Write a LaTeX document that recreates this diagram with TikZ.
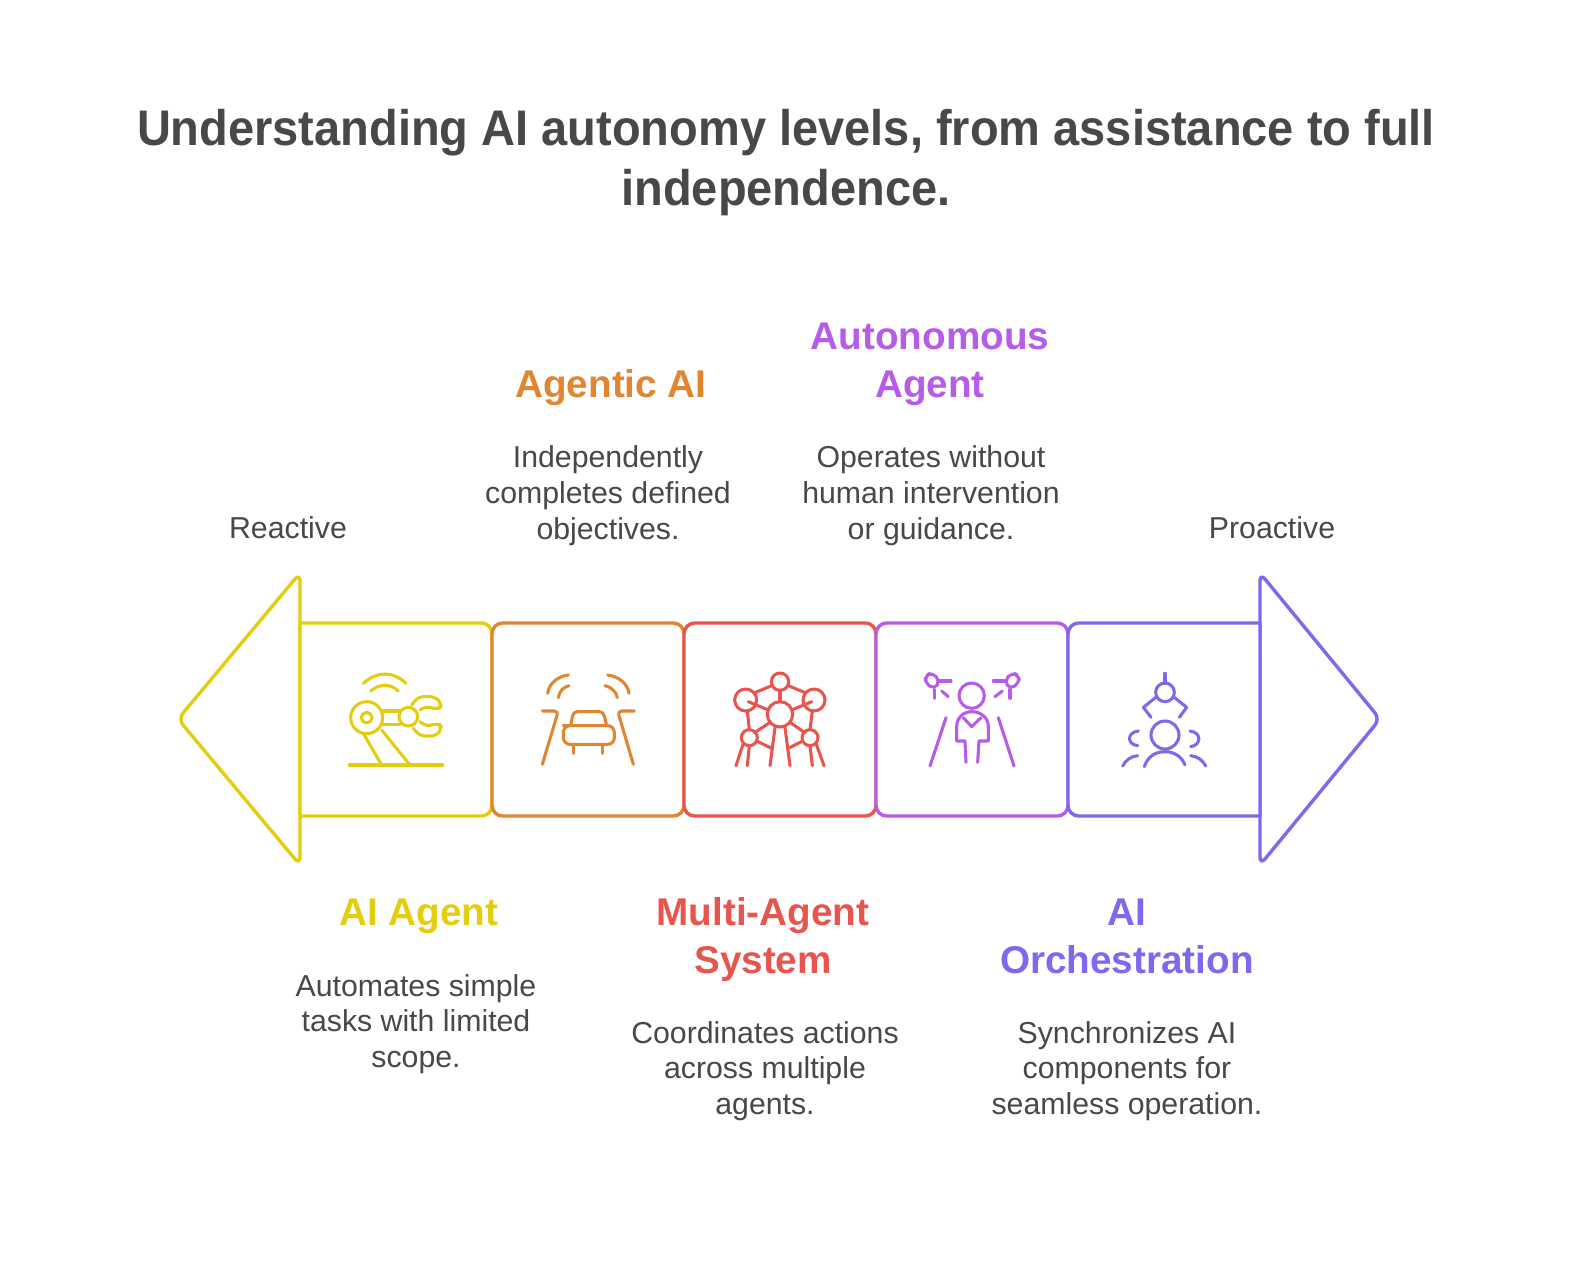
\documentclass[tikz,border=0pt]{standalone}
\usepackage{fontspec}
\setmainfont{Liberation Sans}
\newfontfamily\titlefont[FakeStretch=0.94]{Liberation Sans}
\definecolor{cyel}{HTML}{E2CE0F}
\definecolor{cora}{HTML}{E08530}
\definecolor{cred}{HTML}{E8554E}
\definecolor{cpur}{HTML}{B75CE8}
\definecolor{cvio}{HTML}{7E69EC}
\definecolor{ctxt}{HTML}{484848}
\tikzset{
  shapeline/.style={line width=3.4*0.75pt,line join=round,line cap=round,fill=white,draw=#1},
  iconline/.style={line width=2.3pt,line cap=round,line join=round},
  icon/.style={x=0.25pt,y=-0.25pt,iconline},
  titletext/.style={font=\fontsize{37.5}{45}\selectfont\titlefont\bfseries,text=ctxt,align=center,inner sep=0pt},
  headtext/.style={font=\fontsize{29}{36}\selectfont\bfseries,align=center,inner sep=0pt},
  bodytext/.style={font=\fontsize{22.7}{26.8}\selectfont,text=ctxt,align=center,inner sep=0pt},
}
\begin{document}
\begin{tikzpicture}[x=0.75pt,y=-0.75pt]
\useasboundingbox[fill=white] (0,0) rectangle (1584,1272);
% title
\node[titletext] (title) at (786,163) {Understanding AI autonomy levels, from assistance to full\\independence.};
% end labels
\node[bodytext] (reactive) at (288,528) {Reactive};
\node[bodytext] (proactive) at (1272,528) {Proactive};
% arrow heads and boxes
\draw[shapeline=cyel,rounded corners=6] (300,623) -- (300,573) -- (178,719) -- (300,865) -- (300,816) -- cycle;
\draw[shapeline=cvio,rounded corners=6] (1260,623) -- (1260,573) -- (1380,719) -- (1260,865) -- (1260,816) -- cycle;
\draw[shapeline=cyel] (300,623) -- (484,623) [rounded corners=8] -- (492,623) -- (492,816) [sharp corners] -- (300,816) -- cycle;
\draw[shapeline=cora,rounded corners=8] (492,623) rectangle (684,816);
\draw[shapeline=cred,rounded corners=8] (684,623) rectangle (876,816);
\draw[shapeline=cpur,rounded corners=8] (876,623) rectangle (1068,816);
\draw[shapeline=cvio] (1260,623) [rounded corners=8] -- (1068,623) -- (1068,816) [sharp corners] -- (1260,816) -- cycle;
% icon 1
\begin{scope}[shift={(330,655)},icon,cyel]
\draw (100,85) .. controls (140,48) and (190,48) .. (228,85);
\draw (122,108) .. controls (150,85) and (180,85) .. (205,108);
\draw (110,188) circle[radius=48];
\draw (110,188) circle[radius=16];
\draw (235,185) circle[radius=28];
\draw (157,168) -- (210,168);
\draw (157,208) -- (210,208);
\draw[rounded corners=4pt] (245,150) -- (265,125) -- (315,125) -- (337,147) -- (325,165) -- (290,153) -- (270,165);
\draw[rounded corners=4pt] (250,220) -- (270,243) -- (318,243) -- (337,220) -- (325,203) -- (290,215) -- (270,200);
\draw (100,235) -- (155,330);
\draw (155,225) -- (240,330);
\draw (58,330) -- (338,330);
\end{scope}
% icon 2
\begin{scope}[shift={(525,655)},icon,cora]
\draw (130,60) .. controls (98,64) and (72,85) .. (68,115);
\draw (132,92) .. controls (115,96) and (102,110) .. (100,128);
\draw (248,60) .. controls (280,64) and (308,85) .. (312,115);
\draw (240,92) .. controls (258,96) and (274,110) .. (277,128);
\draw[rounded corners=3pt] (52,168) -- (100,168) -- (52,328);
\draw[rounded corners=3pt] (328,168) -- (278,168) -- (325,328);
\draw[rounded corners=3pt] (137,212) -- (145,170) -- (235,170) -- (245,212);
\draw[rounded corners=5pt] (135,212) -- (115,212) -- (115,268) -- (268,268) -- (268,212) -- cycle;
\draw (145,268) -- (145,295);
\draw (232,268) -- (232,295);
\end{scope}
% icon 3
\begin{scope}[shift={(715,655)},icon,cred]
\draw (195,80) circle[radius=26];
\draw (92,135) circle[radius=33];
\draw (297,135) circle[radius=33];
\draw (195,178) circle[radius=38];
\draw (103,248) circle[radius=24];
\draw (285,248) circle[radius=24];
\draw (170,92) -- (122,112);
\draw (220,92) -- (268,112);
\draw (195,106) -- (195,140);
\draw (100,140) -- (160,165);
\draw (290,140) -- (230,165);
\draw (97,168) -- (103,224);
\draw (292,168) -- (285,224);
\draw (165,202) -- (120,232);
\draw (225,202) -- (268,232);
\draw (85,265) -- (63,332);
\draw (103,272) -- (97,332);
\draw (180,218) -- (165,332);
\draw (210,218) -- (225,332);
\draw (285,272) -- (292,332);
\draw (303,265) -- (327,332);
\draw (125,258) -- (170,280);
\draw (263,258) -- (220,280);
\end{scope}
% icon 4
\begin{scope}[shift={(905,655)},icon,cpur]
\draw (200,122) circle[radius=38];
\draw[rounded corners=4pt] (105,78) -- (82,52) -- (60,62) -- (62,85) -- (88,103) -- cycle;
\draw (105,78) -- (138,78);
\draw (88,103) -- (88,130);
\draw (110,108) -- (130,125);
\draw[rounded corners=4pt] (298,78) -- (321,52) -- (343,62) -- (341,85) -- (315,103) -- cycle;
\draw (298,78) -- (265,78);
\draw (315,103) -- (315,130);
\draw (292,108) -- (270,125);
\draw (183,322) -- (180,258) -- (155,258) -- (155,215) .. controls (155,188) and (175,170) .. (200,170) .. controls (228,170) and (250,188) .. (250,215) -- (250,258) -- (222,258) -- (218,322);
\draw (175,188) -- (200,215) -- (228,188);
\draw (123,188) -- (75,333);
\draw (280,188) -- (327,333);
\end{scope}
% icon 5
\begin{scope}[shift={(1095,655)},icon,cvio]
\draw (210,55) -- (210,85);
\draw (210,112) circle[radius=28];
\draw (185,125) -- (145,157) -- (168,187);
\draw (235,125) -- (275,157) -- (253,187);
\draw (210,240) circle[radius=42];
\draw (148,335) .. controls (158,305) and (180,290) .. (210,290) .. controls (238,290) and (260,305) .. (270,330);
\draw (130,228) .. controls (95,232) and (95,268) .. (128,272);
\draw (285,228) .. controls (320,232) and (320,270) .. (287,275);
\draw (83,333) .. controls (92,315) and (108,304) .. (128,302);
\draw (287,302) .. controls (307,304) and (323,315) .. (332,333);
\end{scope}
% texts
\node[headtext,text=cyel] (h1) at (419,916) {AI Agent};
\node[bodytext] (d1) at (416,1024) {Automates simple\\tasks with limited\\scope.};
\node[headtext,text=cora] (h2) at (611,388) {Agentic AI};
\node[bodytext] (d2) at (608,495.5) {Independently\\completes defined\\objectives.};
\node[headtext,text=cred] (h3) at (763,939) {Multi-Agent\\System};
\node[bodytext] (d3) at (765,1071) {Coordinates actions\\across multiple\\agents.};
\node[headtext,text=cpur] (h4) at (930,364) {Autonomous\\Agent};
\node[bodytext] (d4) at (931,495.5) {Operates without\\human intervention\\or guidance.};
\node[headtext,text=cvio] (h5) at (1127,936) {AI\\Orchestration};
\node[bodytext] (d5) at (1127,1071) {Synchronizes AI\\components for\\seamless operation.};
\end{tikzpicture}
\end{document}
